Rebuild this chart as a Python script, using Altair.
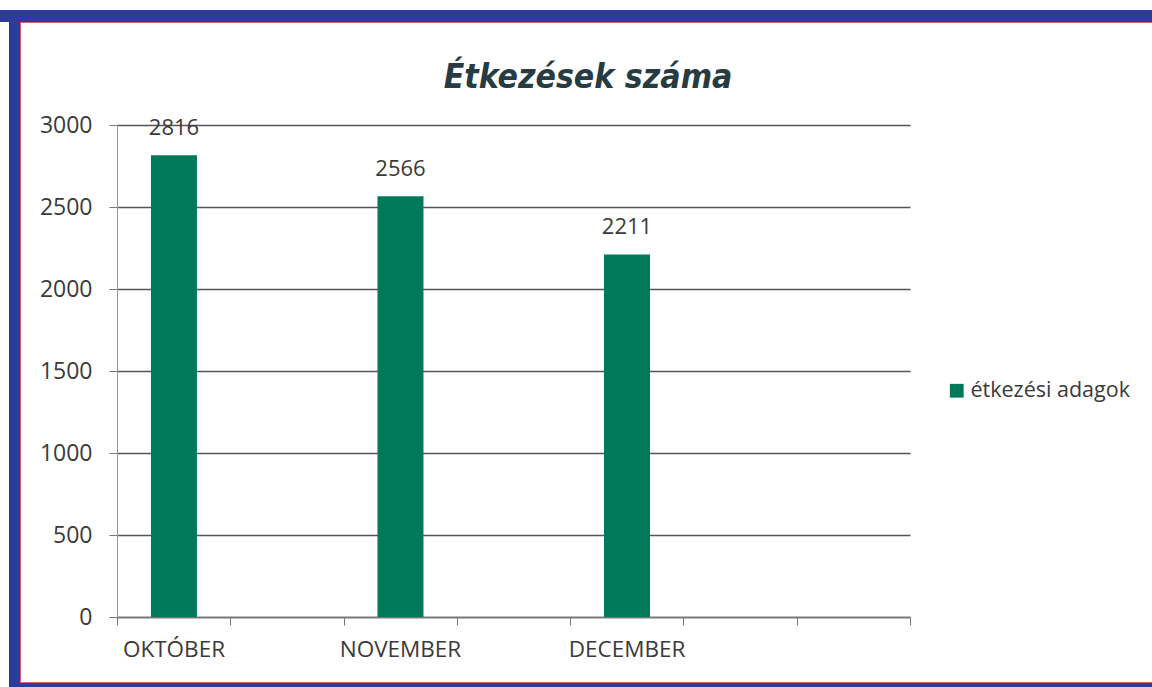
import altair as alt
import pandas as pd

# ---- data ----
months = ["OKTÓBER", "NOVEMBER", "DECEMBER"]
values = [2816, 2566, 2211]
series_name = "étkezési adagok"
title_text = "Étkezések száma"
y_ticks = [0, 500, 1000, 1500, 2000, 2500, 3000]
x_tick_steps = [0, 1, 2, 3, 4, 5, 6, 7]

df = pd.DataFrame({"honap": months, "adag": values, "sorozat": [series_name] * len(months)})
ticks_df = pd.DataFrame({"t": x_tick_steps})
one = pd.DataFrame({"a": [0]})
title_df = pd.DataFrame({"cim": [title_text]})

FONT = "Open Sans"
TEXT = "#3a3a3a"
GREEN = "#00795b"
BLUE = "#2b3d99"
RED = "#d8606e"

W, H = 793, 492
ox, oy = 117, 125

x_band = alt.X(
    "honap:N",
    sort=months,
    scale=alt.Scale(domain=months, paddingInner=0.797, paddingOuter=0.649, align=0.1156),
    axis=alt.Axis(title=None, ticks=False, domain=False, labelAngle=0, labelFontSize=22.5,
                  labelFont=FONT, labelColor=TEXT, labelPadding=21, grid=False),
)
y_q = alt.Y(
    "adag:Q",
    scale=alt.Scale(domain=[0, 3000], nice=False),
    axis=alt.Axis(title=None, values=y_ticks, format="d", labelFontSize=23, labelFont=FONT,
                  labelColor=TEXT, tickSize=8, labelPadding=17, tickColor="#777",
                  domainColor="#999", gridColor="#555", gridWidth=1.4, domainWidth=1),
)

base = alt.Chart(df)
bars = base.mark_bar().encode(
    x=x_band,
    y=y_q,
    color=alt.Color("sorozat:N", scale=alt.Scale(range=[GREEN]),
                    legend=alt.Legend(title=None, orient="none", legendX=829, legendY=255,
                                      symbolType="square", symbolSize=190, symbolStrokeWidth=0,
                                      labelFontSize=21.5, labelFont=FONT, labelColor=TEXT,
                                      labelOffset=3)),
)
labels = base.mark_text(baseline="bottom", dy=-15, fontSize=22, font=FONT, color=TEXT).encode(
    x=alt.X("honap:N", sort=months), y="adag:Q", text="adag:Q"
)

xticks = alt.Chart(ticks_df).mark_point(opacity=0).encode(
    x=alt.X("t:Q", scale=alt.Scale(domain=[0, 7], nice=False, zero=False),
            axis=alt.Axis(values=x_tick_steps, labels=False, title=None, tickSize=8,
                          tickColor="#777", domainColor="#777", domainWidth=1.5, grid=False,
                          orient="bottom")),
    y=alt.value(H),
)

def band(x1, x2, y1, y2, color):
    return alt.Chart(one).mark_rect(color=color).encode(
        x=alt.value(x1), x2=alt.value(x2), y=alt.value(y1), y2=alt.value(y2)
    )

frame = alt.layer(
    band(-ox, 1152 - ox, 10 - oy, 22 - oy, BLUE),
    band(9 - ox, 20 - ox, 10 - oy, 687 - oy, BLUE),
    band(9 - ox, 1152 - ox, 683 - oy, 687 - oy, BLUE),
    band(20 - ox, 1152 - ox, 22 - oy, 23 - oy, RED),
    band(20 - ox, 21 - ox, 22 - oy, 683 - oy, RED),
    band(20 - ox, 1152 - ox, 682 - oy, 683 - oy, RED),
)

title = alt.Chart(title_df).mark_text(
    font="'DejaVu Sans Condensed', 'Liberation Sans', sans-serif", fontSize=33.5,
    fontStyle="italic", fontWeight="bold",
    color="#263b42", align="center", baseline="alphabetic"
).encode(x=alt.value(588 - ox), y=alt.value(88 - oy), text="cim:N")

chart = alt.layer(frame, title, alt.layer(bars, labels), xticks).resolve_scale(x="independent").properties(
    width=W,
    height=H,
    autosize=alt.AutoSizeParams(type="none"),
    padding={"left": ox, "top": oy, "right": 1152 - ox - W, "bottom": 687 - oy - H},
    background="white",
).configure_view(stroke=None)

chart.save("out.html", embed_options={"renderer": "svg", "actions": False})
